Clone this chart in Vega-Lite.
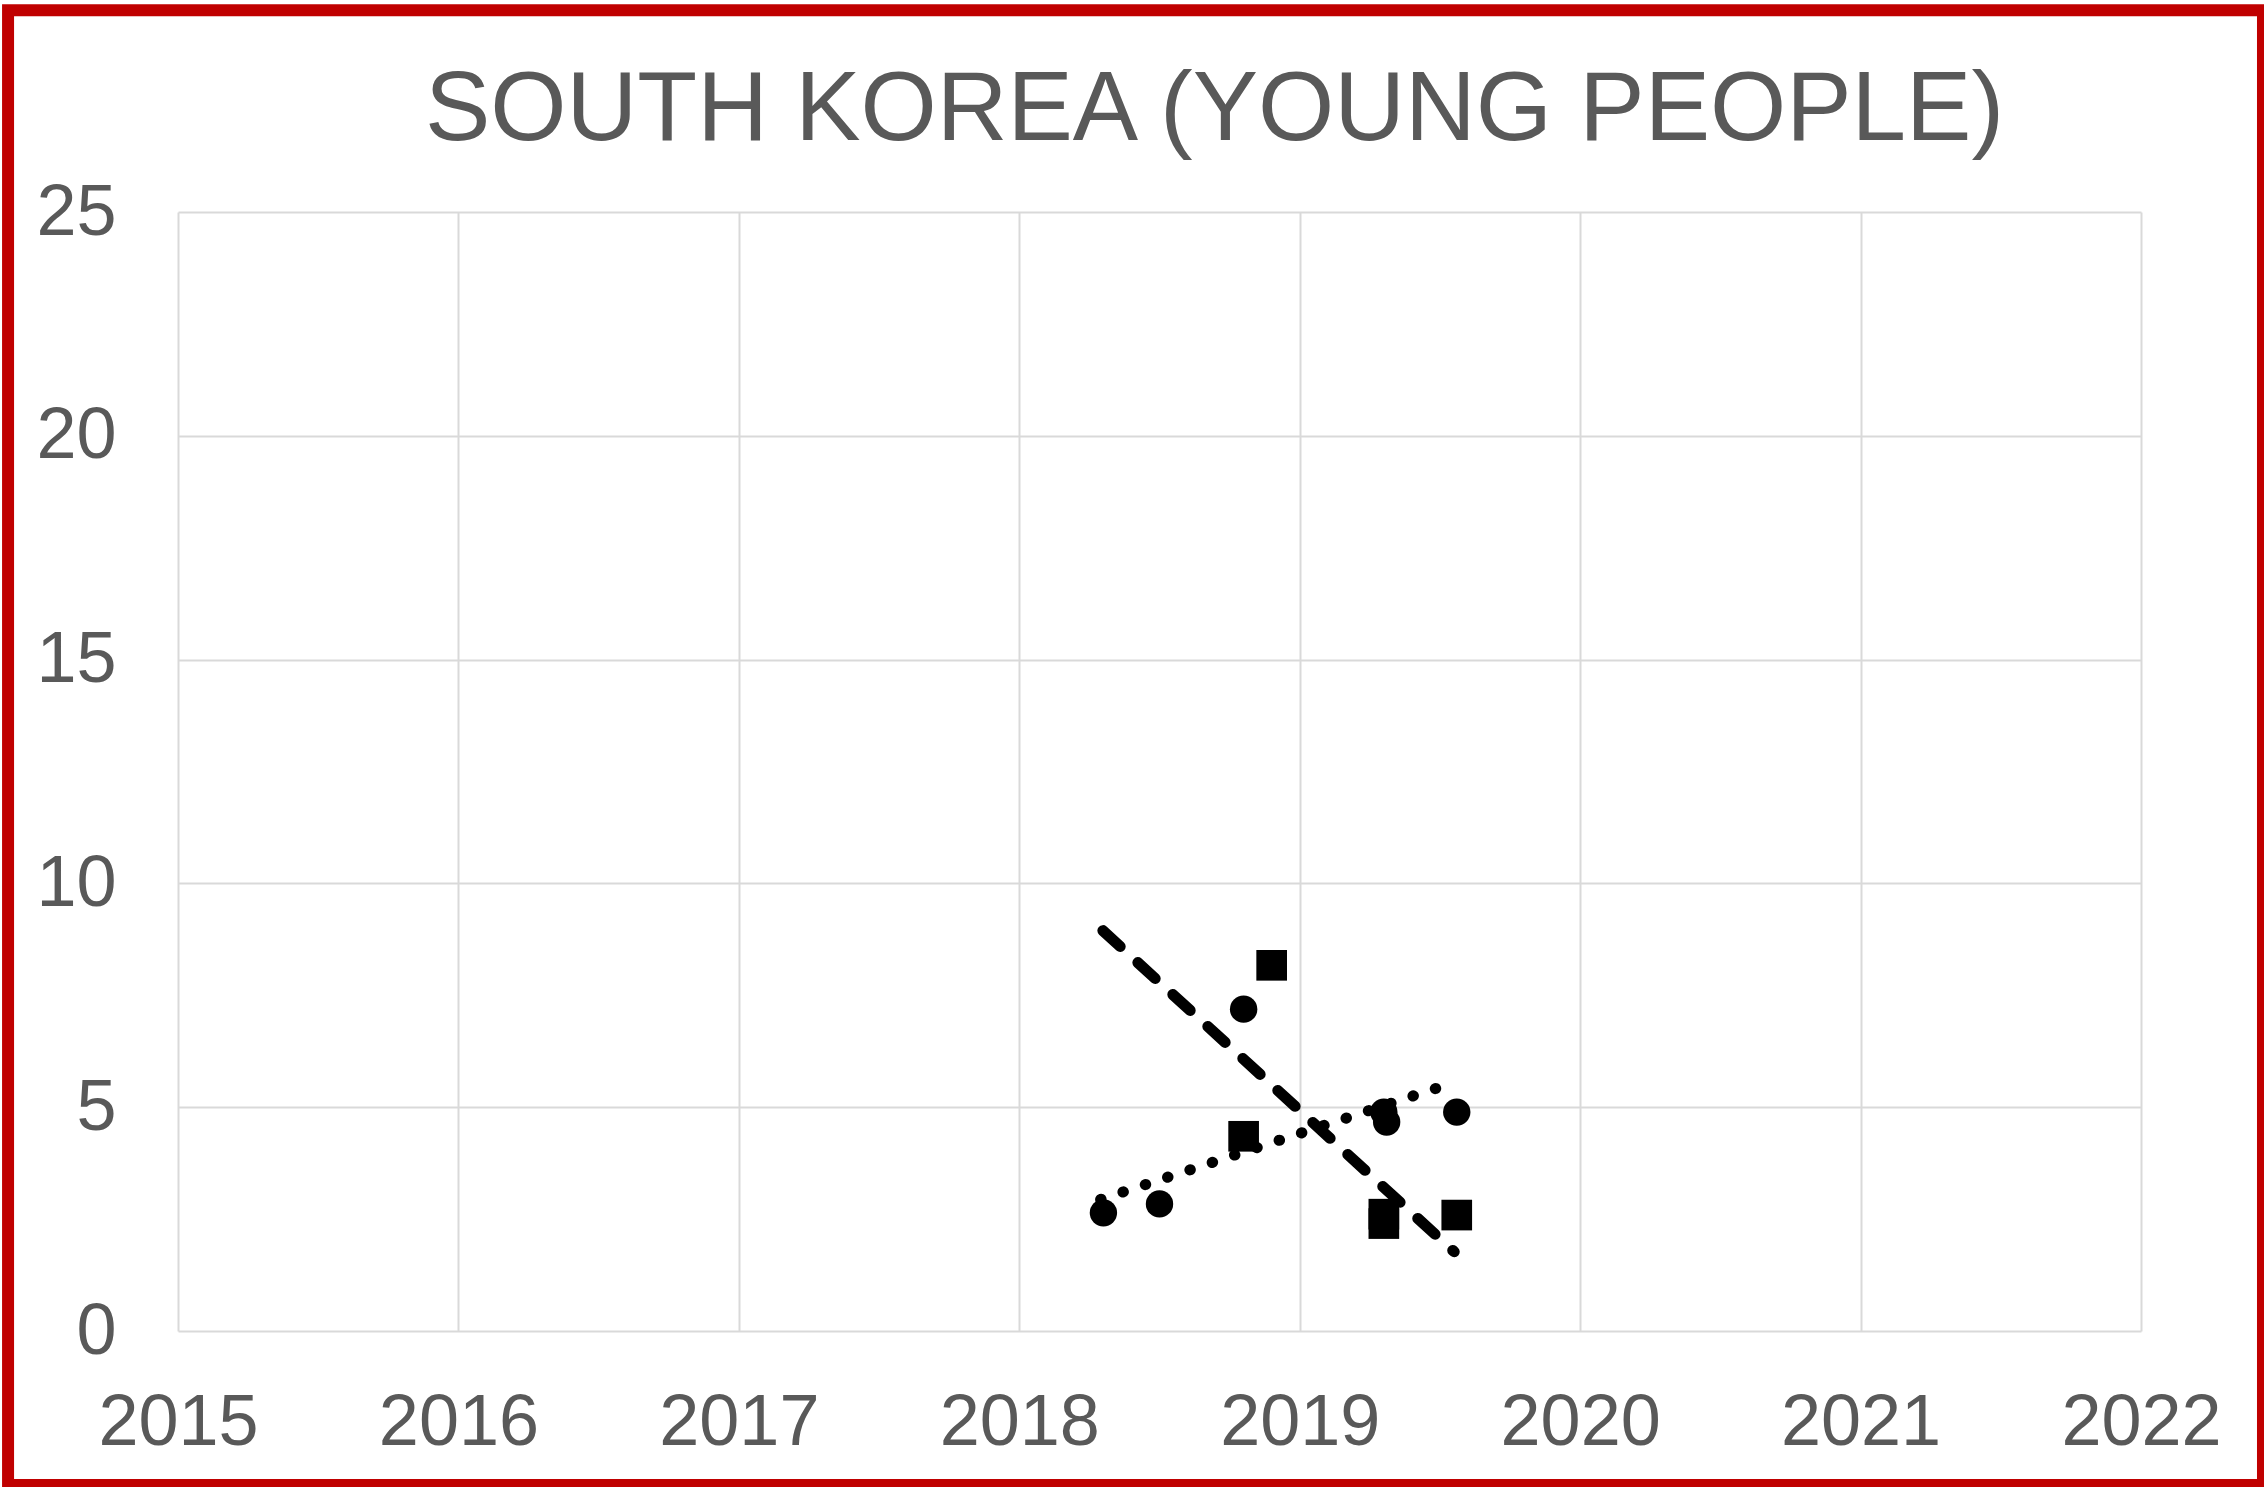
{
  "$schema": "https://vega.github.io/schema/vega-lite/v6.json",
  "autosize": {"type": "none"},
  "width": 1963,
  "height": 1119,
  "padding": {"left": 178, "top": 212, "right": 123, "bottom": 156},
  "background": "white",
  "config": {
    "view": {"stroke": null},
    "font": "Liberation Sans",
    "axis": {
      "grid": true,
      "gridColor": "#d9d9d9",
      "gridWidth": 2,
      "domain": false,
      "ticks": false,
      "labelFont": "Liberation Sans",
      "labelFontSize": 72,
      "labelColor": "#595959",
      "title": null,
      "labelOverlap": false,
      "labelFlush": false
    }
  },
  "title": {
    "text": "SOUTH KOREA (YOUNG PEOPLE)",
    "font": "Liberation Sans",
    "fontSize": 98,
    "fontWeight": "normal",
    "color": "#595959",
    "anchor": "middle",
    "frame": "group",
    "dx": 55,
    "baseline": "alphabetic",
    "offset": -234
  },
  "datasets": {
    "circles": [
      {"year": 2018.30, "value": 2.64},
      {"year": 2018.50, "value": 2.84},
      {"year": 2018.80, "value": 7.19},
      {"year": 2019.30, "value": 4.89},
      {"year": 2019.31, "value": 4.67},
      {"year": 2019.56, "value": 4.89}
    ],
    "squares": [
      {"year": 2018.90, "value": 8.17},
      {"year": 2018.80, "value": 4.35},
      {"year": 2019.30, "value": 2.61},
      {"year": 2019.30, "value": 2.40},
      {"year": 2019.56, "value": 2.59}
    ],
    "dashed": [
      {"year": 2018.298, "value": 8.945},
      {"year": 2019.551, "value": 1.77}
    ],
    "dotted": [
      {"year": 2018.29, "value": 2.94},
      {"year": 2019.50, "value": 5.45}
    ]
  },
  "layer": [
    {
      "data": {"name": "dashed"},
      "mark": {"type": "line", "color": "black", "strokeWidth": 11, "strokeDash": [23.5, 23.9], "strokeCap": "round"},
      "encoding": {
        "x": {"field": "year", "type": "quantitative", "scale": {"domain": [2015, 2022], "nice": false, "zero": false},
              "axis": {"values": [2015, 2016, 2017, 2018, 2019, 2020, 2021, 2022], "format": "d", "labelPadding": 56}},
        "y": {"field": "value", "type": "quantitative", "scale": {"domain": [0, 25], "nice": false},
              "axis": {"values": [0, 5, 10, 15, 20, 25], "labelPadding": 62}}
      }
    },
    {
      "data": {"name": "dotted"},
      "mark": {"type": "line", "color": "black", "strokeWidth": 11, "strokeDash": [0.5, 23], "strokeCap": "round"},
      "encoding": {
        "x": {"field": "year", "type": "quantitative"},
        "y": {"field": "value", "type": "quantitative"}
      }
    },
    {
      "data": {"name": "circles"},
      "mark": {"type": "point", "shape": "circle", "filled": true, "color": "black", "opacity": 1, "size": 750},
      "encoding": {
        "x": {"field": "year", "type": "quantitative"},
        "y": {"field": "value", "type": "quantitative"}
      }
    },
    {
      "data": {"name": "squares"},
      "mark": {"type": "point", "shape": "square", "filled": true, "color": "black", "opacity": 1, "size": 940},
      "encoding": {
        "x": {"field": "year", "type": "quantitative"},
        "y": {"field": "value", "type": "quantitative"}
      }
    },
    {
      "data": {"values": [{}]},
      "mark": {"type": "rect", "filled": false, "stroke": "#C00000", "strokeWidth": 12, "clip": false},
      "encoding": {
        "x": {"datum": 2014.394, "type": "quantitative"},
        "x2": {"datum": 2022.435},
        "y": {"datum": 29.51, "type": "quantitative"},
        "y2": {"datum": -3.44}
      }
    }
  ]
}
